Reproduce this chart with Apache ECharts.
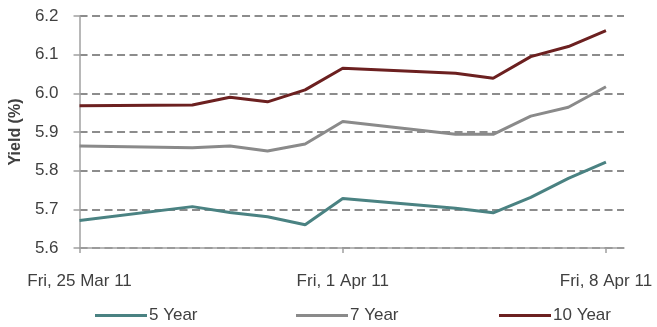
<!DOCTYPE html>
<html>
<head>
<meta charset="utf-8">
<script src="https://cdn.jsdelivr.net/npm/echarts@6/dist/echarts.min.js"></script>
<style>
  html, body { margin: 0; padding: 0; background: #fff; }
  #chart { width: 657px; height: 327px; }
</style>
</head>
<body>
<div id="chart"></div>
<script>
// Trading days (weekends skipped)
const dates = ['2011-03-25', '2011-03-28', '2011-03-29', '2011-03-30', '2011-03-31',
               '2011-04-01', '2011-04-04', '2011-04-05', '2011-04-06', '2011-04-07', '2011-04-08'];

// Yields in percent
const yield5 = [5.671, 5.707, 5.692, 5.681, 5.660, 5.728, 5.703, 5.691, 5.731, 5.780, 5.822];
const yield7 = [5.864, 5.859, 5.864, 5.851, 5.869, 5.927, 5.894, 5.894, 5.941, 5.964, 6.017];
const yield10 = [5.968, 5.970, 5.990, 5.978, 6.009, 6.065, 6.052, 6.039, 6.095, 6.121, 6.162];

// Weekly date labels on the horizontal axis
const weekLabels = ['Fri, 25 Mar 11', 'Fri, 1 Apr 11', 'Fri, 8 Apr 11'];

const seriesNames = ['5 Year', '7 Year', '10 Year'];
const seriesColors = ['#4a8282', '#8a8a8a', '#6c2020'];

const DAY = 86400000;
const start = Date.parse(dates[0]);
const dayOffset = d => (Date.parse(d) - start) / DAY;

const textColor = '#404040';
const font = 'Liberation Sans, Arial, sans-serif';

function toPairs(values) {
  return dates.map((d, i) => [dayOffset(d), values[i]]);
}

const chart = echarts.init(document.getElementById('chart'), null, { renderer: 'canvas' });

const legendLefts = [95, 296, 499];

chart.setOption({
  animation: false,
  grid: { left: 78, top: 16, right: 33, bottom: 79, containLabel: false },
  legend: seriesNames.map((name, i) => ({
    data: [name],
    left: legendLefts[i],
    top: 307,
    itemWidth: 52,
    itemHeight: 3,
    itemGap: 0,
    padding: 0,
    icon: 'rect',
    textStyle: { color: textColor, fontSize: 17, fontFamily: font, padding: [0, 0, 0, -3] },
    selectedMode: false
  })),
  xAxis: {
    type: 'value',
    min: 0,
    max: 14.48,
    interval: 7,
    axisLine: { show: true, lineStyle: { color: '#a0a0a0', width: 1.5 } },
    axisTick: { show: true, customValues: [0, 7, 14], length: 5, lineStyle: { color: '#a0a0a0', width: 1.5 } },
    axisLabel: {
      customValues: [0, 7, 14],
      formatter: v => weekLabels[Math.round(v / 7)] || '',
      color: textColor, fontSize: 17, fontFamily: font, margin: 25
    },
    splitLine: { show: false }
  },
  yAxis: {
    type: 'value',
    min: 5.6,
    max: 6.2,
    interval: 0.1,
    name: 'Yield (%)',
    nameLocation: 'middle',
    nameGap: 54,
    nameRotate: 90,
    nameTextStyle: { color: textColor, fontSize: 16, fontWeight: 'bold', fontFamily: font },
    axisLine: { show: true, lineStyle: { color: '#a0a0a0', width: 1.5 } },
    axisTick: { show: true, length: 6, lineStyle: { color: '#a0a0a0', width: 1.5 } },
    axisLabel: {
      formatter: v => v.toFixed(1),
      color: textColor, fontSize: 17, fontFamily: font, margin: 21
    },
    splitLine: { show: true, lineStyle: { color: '#8c8c8c', width: 2, type: [8, 4.5] } }
  },
  series: [yield5, yield7, yield10].map((vals, i) => ({
    name: seriesNames[i],
    type: 'line',
    data: toPairs(vals),
    showSymbol: false,
    symbol: 'none',
    lineStyle: { color: seriesColors[i], width: 3 },
    itemStyle: { color: seriesColors[i] }
  }))
});
</script>
</body>
</html>
